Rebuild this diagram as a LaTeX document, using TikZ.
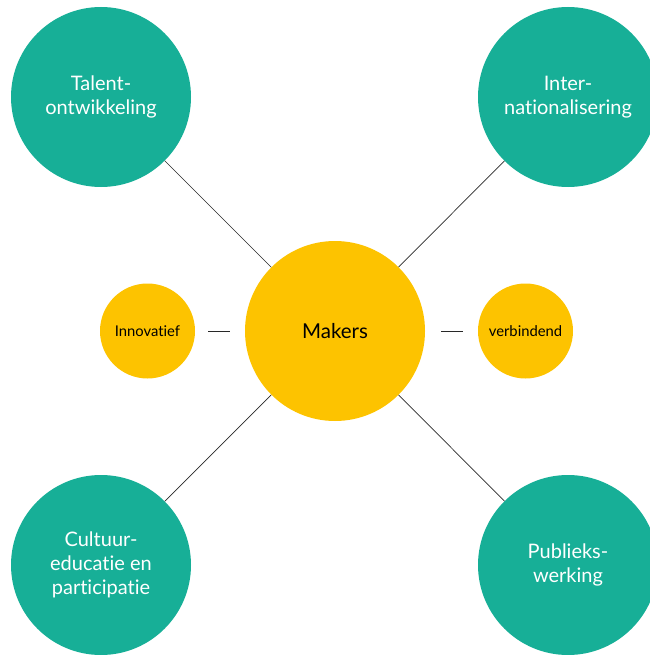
\documentclass[tikz,border=0pt]{standalone}
\usepackage{fontspec}
\setmainfont{Lato}[Ligatures=NoCommon]
\definecolor{tealc}{RGB}{23,175,151}
\definecolor{yellowc}{RGB}{253,195,0}
\definecolor{linec}{RGB}{40,40,40}
\begin{document}
\begin{tikzpicture}[x=1pt,y=-1pt,
  bigteal/.style={circle,fill=tealc,minimum size=180pt,inner sep=0pt,text=white,align=center,font=\fontsize{20}{24}\selectfont},
  bigyellow/.style={circle,fill=yellowc,minimum size=180pt,inner sep=0pt,text=black,align=center,font=\fontsize{20.5}{24}\selectfont},
  smallyellow/.style={circle,fill=yellowc,minimum size=95pt,inner sep=0pt,text=black,align=center,font=\fontsize{14.8}{18}\selectfont},
  conn/.style={draw=linec,line width=0.7pt}]
\useasboundingbox (0,0) rectangle (649,655);
\node[bigteal] (tl) at (101,97) {Talent-\\ontwikkeling};
\node[bigteal] (tr) at (568,97) {Inter-\\nationalisering};
\node[bigteal] (bl) at (101,565) {Cultuur-\\educatie en\\participatie};
\node[bigteal] (br) at (568,565) {Publieks-\\werking};
\node[bigyellow] (c) at (335,331) {Makers};
\node[smallyellow] (l) at (147.5,331) {Innovatief};
\node[smallyellow] (r) at (525.5,331) {verbindend};
\coordinate (la) at (208,331);
\coordinate (lb) at (230,331);
\coordinate (ra) at (441,331);
\coordinate (rb) at (463,331);
\draw[conn] (tl) -- (c);
\draw[conn] (tr) -- (c);
\draw[conn] (bl) -- (c);
\draw[conn] (br) -- (c);
\draw[conn] (la) -- (lb);
\draw[conn] (ra) -- (rb);
\end{tikzpicture}
\end{document}
